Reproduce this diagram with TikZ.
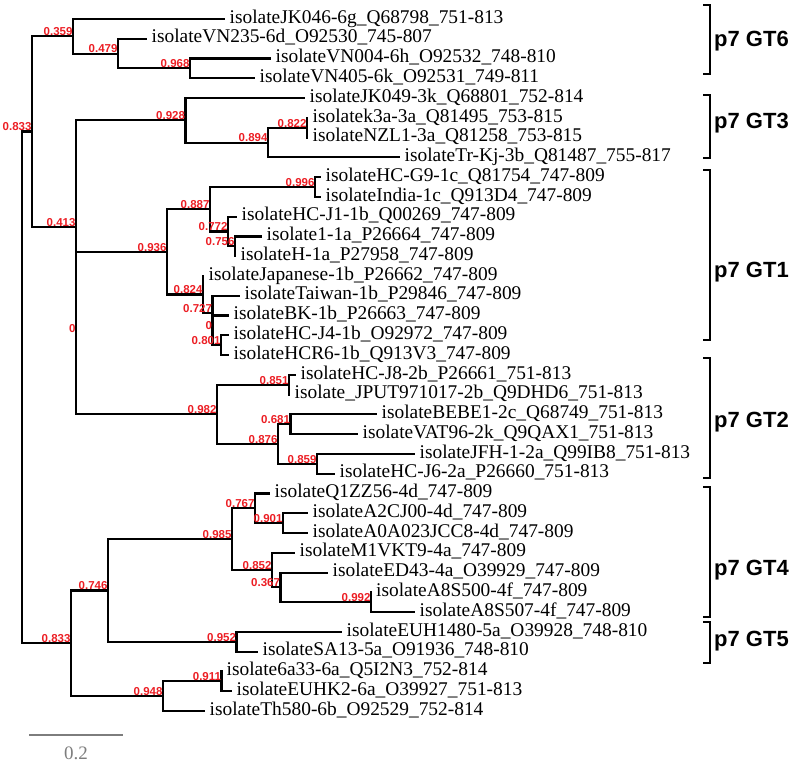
\documentclass[tikz,border=0pt]{standalone}
\usepackage{fontspec}
\setmainfont{Liberation Serif}
\newfontfamily\supfont{Liberation Sans}

\definecolor{supred}{RGB}{236,30,36}
\definecolor{bargray}{RGB}{125,125,125}

\begin{document}
\begin{tikzpicture}[x=1pt, y=-1pt,
  branch/.style={line width=2.1pt, black},
  leaf/.style={anchor=base west, inner sep=0pt, xshift=4.5pt, yshift=-4.2pt,
    font=\fontsize{19.4}{20}\selectfont},
  support/.style={anchor=base east, inner sep=0pt, xshift=-0.3pt, yshift=0.6pt,
    text=supred, font=\supfont\bfseries\fontsize{11.5}{12}\selectfont},
  bracket/.style={line width=2.9pt, black},
  clade/.style={anchor=west, inner sep=0pt, font=\supfont\bfseries\fontsize{22}{24}\selectfont}]

  \useasboundingbox (0,0) rectangle (796,762);

  % Leaf tips
  \coordinate (JK046)    at (225, 19.00);
  \coordinate (VN235)    at (147, 38.77);
  \coordinate (VN004)    at (271, 58.54);
  \coordinate (VN405)    at (255, 78.31);
  \coordinate (JK049)    at (305, 98.08);
  \coordinate (k3a)      at (308, 117.85);
  \coordinate (NZL1)     at (308, 137.62);
  \coordinate (TrKj)     at (400, 157.39);
  \coordinate (HCG9)     at (321, 177.16);
  \coordinate (India)    at (321, 196.93);
  \coordinate (HCJ1)     at (237, 216.70);
  \coordinate (iso11a)   at (262, 236.47);
  \coordinate (H1a)      at (236, 256.24);
  \coordinate (Japanese) at (204, 276.01);
  \coordinate (Taiwan)   at (240, 295.78);
  \coordinate (BK)       at (229, 315.55);
  \coordinate (HCJ4)     at (229, 335.32);
  \coordinate (HCR6)     at (229, 355.09);
  \coordinate (HCJ8)     at (296, 374.86);
  \coordinate (JPUT)     at (290, 394.63);
  \coordinate (BEBE1)    at (377, 414.40);
  \coordinate (VAT96)    at (358, 434.17);
  \coordinate (JFH)      at (415, 453.94);
  \coordinate (HCJ6)     at (335, 473.71);
  \coordinate (Q1ZZ56)   at (270, 493.48);
  \coordinate (A2CJ00)   at (308, 513.25);
  \coordinate (A0A023)   at (308, 533.02);
  \coordinate (M1VKT9)   at (295, 552.79);
  \coordinate (ED43)     at (328, 572.56);
  \coordinate (A8S500)   at (371.5, 592.33);
  \coordinate (A8S507)   at (415, 612.10);
  \coordinate (EUH1480)  at (342, 631.87);
  \coordinate (SA13)     at (258, 651.64);
  \coordinate (iso6a33)  at (222, 671.41);
  \coordinate (EUHK2)    at (232, 691.18);
  \coordinate (Th580)    at (205, 710.95);

  % Internal nodes
  \coordinate (root) at (22, 387.40);
  \coordinate (nA)   at (32, 131.52);
  \coordinate (n359) at (73, 36.30);
  \coordinate (n479) at (118, 53.60);
  \coordinate (n968) at (190, 68.43);
  \coordinate (n413) at (76, 226.74);
  \coordinate (n928) at (185.5, 120.32);
  \coordinate (n894) at (268, 142.56);
  \coordinate (n822) at (307, 127.74);
  \coordinate (n0)   at (76, 333.16);
  \coordinate (n936) at (167, 251.92);
  \coordinate (n887) at (210, 209.29);
  \coordinate (n996) at (315, 187.05);
  \coordinate (n772) at (228, 231.53);
  \coordinate (n756) at (235, 246.36);
  \coordinate (n824) at (203, 294.55);
  \coordinate (n727) at (212.5, 313.08);
  \coordinate (nz)   at (212.5, 330.38);
  \coordinate (n801) at (221, 345.20);
  \coordinate (n982) at (217, 414.40);
  \coordinate (n851) at (289, 384.75);
  \coordinate (n876) at (278, 444.06);
  \coordinate (n681) at (290.5, 424.29);
  \coordinate (n859) at (317, 463.83);
  \coordinate (nB)   at (71, 643.30);
  \coordinate (n746) at (108, 590.48);
  \coordinate (n985) at (232, 539.20);
  \coordinate (n767) at (255, 508.31);
  \coordinate (n901) at (283, 523.14);
  \coordinate (n852) at (272, 570.09);
  \coordinate (n367) at (280.5, 587.39);
  \coordinate (n992) at (371, 602.22);
  \coordinate (n952) at (236.5, 641.76);
  \coordinate (n948) at (163, 696.12);
  \coordinate (n911) at (221.5, 681.30);

  % Branches
  \draw[branch] (root) |- (nA) (root) |- (nB);
  \draw[branch] (nA) |- (n359) (nA) |- (n413);
  \draw[branch] (n359) |- (JK046) (n359) |- (n479);
  \draw[branch] (n479) |- (VN235) (n479) |- (n968);
  \draw[branch] (n968) |- (VN004) (n968) |- (VN405);
  \draw[branch] (n413) |- (n928) (n413) |- (n0);
  \draw[branch] (n928) |- (JK049) (n928) |- (n894);
  \draw[branch] (n894) |- (n822) (n894) |- (TrKj);
  \draw[branch] (n822) |- (k3a) (n822) |- (NZL1);
  \draw[branch] (n0) |- (n936) (n0) |- (n982);
  \draw[branch] (n936) |- (n887) (n936) |- (n824);
  \draw[branch] (n887) |- (n996) (n887) |- (n772);
  \draw[branch] (n996) |- (HCG9) (n996) |- (India);
  \draw[branch] (n772) |- (HCJ1) (n772) |- (n756);
  \draw[branch] (n756) |- (iso11a) (n756) |- (H1a);
  \draw[branch] (n824) |- (Japanese) (n824) |- (n727);
  \draw[branch] (n727) |- (Taiwan) (n727) |- (nz);
  \draw[branch] (nz) |- (BK) (nz) |- (n801);
  \draw[branch] (n801) |- (HCJ4) (n801) |- (HCR6);
  \draw[branch] (n982) |- (n851) (n982) |- (n876);
  \draw[branch] (n851) |- (HCJ8) (n851) |- (JPUT);
  \draw[branch] (n876) |- (n681) (n876) |- (n859);
  \draw[branch] (n681) |- (BEBE1) (n681) |- (VAT96);
  \draw[branch] (n859) |- (JFH) (n859) |- (HCJ6);
  \draw[branch] (nB) |- (n746) (nB) |- (n948);
  \draw[branch] (n746) |- (n985) (n746) |- (n952);
  \draw[branch] (n985) |- (n767) (n985) |- (n852);
  \draw[branch] (n767) |- (Q1ZZ56) (n767) |- (n901);
  \draw[branch] (n901) |- (A2CJ00) (n901) |- (A0A023);
  \draw[branch] (n852) |- (M1VKT9) (n852) |- (n367);
  \draw[branch] (n367) |- (ED43) (n367) |- (n992);
  \draw[branch] (n992) |- (A8S500) (n992) |- (A8S507);
  \draw[branch] (n952) |- (EUH1480) (n952) |- (SA13);
  \draw[branch] (n948) |- (n911) (n948) |- (Th580);
  \draw[branch] (n911) |- (iso6a33) (n911) |- (EUHK2);

  % Support values
  \node[support] (sA)   at (nA)   {0.833};
  \node[support] (s359) at (n359) {0.359};
  \node[support] (s479) at (n479) {0.479};
  \node[support] (s968) at (n968) {0.968};
  \node[support] (s413) at (n413) {0.413};
  \node[support] (s928) at (n928) {0.928};
  \node[support] (s894) at (n894) {0.894};
  \node[support] (s822) at (n822) {0.822};
  \node[support] (s0)   at (n0)   {0};
  \node[support] (s936) at (n936) {0.936};
  \node[support] (s887) at (n887) {0.887};
  \node[support] (s996) at (n996) {0.996};
  \node[support] (s772) at (n772) {0.772};
  \node[support] (s756) at (n756) {0.756};
  \node[support] (s824) at (n824) {0.824};
  \node[support] (s727) at (n727) {0.727};
  \node[support] (sz)   at (nz)   {0};
  \node[support] (s801) at (n801) {0.801};
  \node[support] (s982) at (n982) {0.982};
  \node[support] (s851) at (n851) {0.851};
  \node[support] (s876) at (n876) {0.876};
  \node[support] (s681) at (n681) {0.681};
  \node[support] (s859) at (n859) {0.859};
  \node[support] (sB)   at (nB)   {0.833};
  \node[support] (s746) at (n746) {0.746};
  \node[support] (s985) at (n985) {0.985};
  \node[support] (s767) at (n767) {0.767};
  \node[support] (s901) at (n901) {0.901};
  \node[support] (s852) at (n852) {0.852};
  \node[support] (s367) at (n367) {0.367};
  \node[support] (s992) at (n992) {0.992};
  \node[support] (s952) at (n952) {0.952};
  \node[support] (s948) at (n948) {0.948};
  \node[support] (s911) at (n911) {0.911};

  % Leaf names
  \node[leaf] (tJK046)    at (JK046)    {isolateJK046-6g\_Q68798\_751-813};
  \node[leaf] (tVN235)    at (VN235)    {isolateVN235-6d\_O92530\_745-807};
  \node[leaf] (tVN004)    at (VN004)    {isolateVN004-6h\_O92532\_748-810};
  \node[leaf] (tVN405)    at (VN405)    {isolateVN405-6k\_O92531\_749-811};
  \node[leaf] (tJK049)    at (JK049)    {isolateJK049-3k\_Q68801\_752-814};
  \node[leaf] (tk3a)      at (k3a)      {isolatek3a-3a\_Q81495\_753-815};
  \node[leaf] (tNZL1)     at (NZL1)     {isolateNZL1-3a\_Q81258\_753-815};
  \node[leaf] (tTrKj)     at (TrKj)     {isolateTr-Kj-3b\_Q81487\_755-817};
  \node[leaf] (tHCG9)     at (HCG9)     {isolateHC-G9-1c\_Q81754\_747-809};
  \node[leaf] (tIndia)    at (India)    {isolateIndia-1c\_Q913D4\_747-809};
  \node[leaf] (tHCJ1)     at (HCJ1)     {isolateHC-J1-1b\_Q00269\_747-809};
  \node[leaf] (tiso11a)   at (iso11a)   {isolate1-1a\_P26664\_747-809};
  \node[leaf] (tH1a)      at (H1a)      {isolateH-1a\_P27958\_747-809};
  \node[leaf] (tJapanese) at (Japanese) {isolateJapanese-1b\_P26662\_747-809};
  \node[leaf] (tTaiwan)   at (Taiwan)   {isolateTaiwan-1b\_P29846\_747-809};
  \node[leaf] (tBK)       at (BK)       {isolateBK-1b\_P26663\_747-809};
  \node[leaf] (tHCJ4)     at (HCJ4)     {isolateHC-J4-1b\_O92972\_747-809};
  \node[leaf] (tHCR6)     at (HCR6)     {isolateHCR6-1b\_Q913V3\_747-809};
  \node[leaf] (tHCJ8)     at (HCJ8)     {isolateHC-J8-2b\_P26661\_751-813};
  \node[leaf] (tJPUT)     at (JPUT)     {isolate\_JPUT971017-2b\_Q9DHD6\_751-813};
  \node[leaf] (tBEBE1)    at (BEBE1)    {isolateBEBE1-2c\_Q68749\_751-813};
  \node[leaf] (tVAT96)    at (VAT96)    {isolateVAT96-2k\_Q9QAX1\_751-813};
  \node[leaf] (tJFH)      at (JFH)      {isolateJFH-1-2a\_Q99IB8\_751-813};
  \node[leaf] (tHCJ6)     at (HCJ6)     {isolateHC-J6-2a\_P26660\_751-813};
  \node[leaf] (tQ1ZZ56)   at (Q1ZZ56)   {isolateQ1ZZ56-4d\_747-809};
  \node[leaf] (tA2CJ00)   at (A2CJ00)   {isolateA2CJ00-4d\_747-809};
  \node[leaf] (tA0A023)   at (A0A023)   {isolateA0A023JCC8-4d\_747-809};
  \node[leaf] (tM1VKT9)   at (M1VKT9)   {isolateM1VKT9-4a\_747-809};
  \node[leaf] (tED43)     at (ED43)     {isolateED43-4a\_O39929\_747-809};
  \node[leaf] (tA8S500)   at (A8S500)   {isolateA8S500-4f\_747-809};
  \node[leaf] (tA8S507)   at (A8S507)   {isolateA8S507-4f\_747-809};
  \node[leaf] (tEUH1480)  at (EUH1480)  {isolateEUH1480-5a\_O39928\_748-810};
  \node[leaf] (tSA13)     at (SA13)     {isolateSA13-5a\_O91936\_748-810};
  \node[leaf] (tiso6a33)  at (iso6a33)  {isolate6a33-6a\_Q5I2N3\_752-814};
  \node[leaf] (tEUHK2)    at (EUHK2)    {isolateEUHK2-6a\_O39927\_751-813};
  \node[leaf] (tTh580)    at (Th580)    {isolateTh580-6b\_O92529\_752-814};

  % Genotype brackets
  \draw[bracket] (703,5)   -- (710,5)   -- (710,74)  -- (703,74);
  \draw[bracket] (703,95)  -- (710,95)  -- (710,158) -- (703,158);
  \draw[bracket] (703,170) -- (710,170) -- (710,340) -- (703,340);
  \draw[bracket] (703,358) -- (710,358) -- (710,478) -- (703,478);
  \draw[bracket] (703,487) -- (710,487) -- (710,617) -- (703,617);
  \draw[bracket] (703,622) -- (710,622) -- (710,663) -- (703,663);

  \node[clade] (gt6) at (714,41)  {p7 GT6};
  \node[clade] (gt3) at (714,123) {p7 GT3};
  \node[clade] (gt1) at (714,272) {p7 GT1};
  \node[clade] (gt2) at (714,422) {p7 GT2};
  \node[clade] (gt4) at (714,570) {p7 GT4};
  \node[clade] (gt5) at (714,641) {p7 GT5};

  % Scale bar
  \coordinate (sb0) at (29,735);
  \coordinate (sb1) at (123,735);
  \draw[line width=1.8pt, bargray] (sb0) -- (sb1);
  \node[text=bargray, font=\fontsize{19}{20}\selectfont, inner sep=0pt] (sblab) at (76,753) {0.2};

\end{tikzpicture}
\end{document}
